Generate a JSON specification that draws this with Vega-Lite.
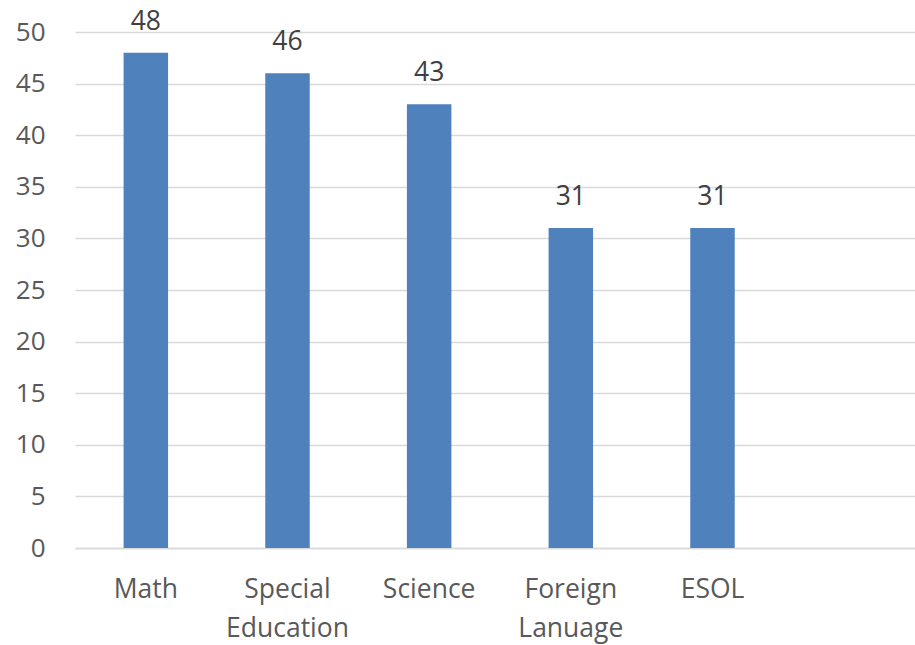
{
  "$schema": "https://vega.github.io/schema/vega-lite/v6.json",
  "autosize": {"type": "none"},
  "padding": {"left": 75, "top": 32, "right": 0, "bottom": 97},
  "width": 850,
  "height": 516,
  "background": "white",
  "config": {"view": {"stroke": null}, "font": "Open Sans"},
  "data": {"values": [
    {"subject": "Math", "count": 48},
    {"subject": "Special Education", "count": 46},
    {"subject": "Science", "count": 43},
    {"subject": "Foreign Lanuage", "count": 31},
    {"subject": "ESOL", "count": 31}
  ]},
  "encoding": {
    "x": {"field": "subject", "type": "nominal", "sort": null,
      "scale": {"domain": ["Math", "Special Education", "Science", "Foreign Lanuage", "ESOL", " "], "paddingInner": 0.686, "paddingOuter": 0.343},
      "axis": {"title": null, "labelAngle": 0, "ticks": false, "domain": true, "domainColor": "#d9d9d9", "domainWidth": 1.5,
        "labelFontSize": 26.5, "labelColor": "#595959", "labelPadding": 28, "labelBaseline": "top", "labelLineHeight": 39,
        "labelExpr": "split(datum.label, ' ')"}},
    "y": {"field": "count", "type": "quantitative",
      "scale": {"domain": [0, 50], "nice": false},
      "axis": {"title": null, "values": [0,5,10,15,20,25,30,35,40,45,50], "ticks": false, "domain": false,
        "grid": true, "gridColor": "#d9d9d9", "gridWidth": 1.5,
        "labelFontSize": 26, "labelColor": "#595959", "labelPadding": 30}}
  },
  "layer": [
    {"mark": {"type": "bar", "color": "#4F81BD"}},
    {"mark": {"type": "text", "baseline": "bottom", "dy": -17, "fontSize": 26.5, "color": "#404040"},
     "encoding": {"text": {"field": "count", "type": "quantitative"}}}
  ]
}
